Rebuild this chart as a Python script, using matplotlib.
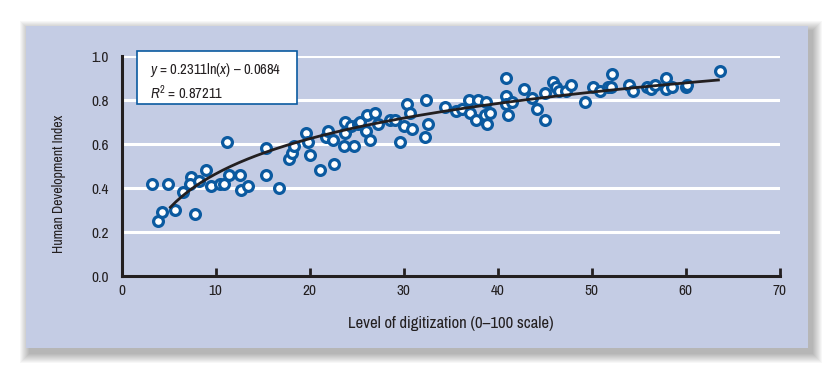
import numpy as np
import matplotlib.pyplot as plt
from matplotlib.patches import Rectangle
from matplotlib import font_manager

PANEL = "#c4cce4"
DOT_EDGE = "#0b5aa0"
INK = "#231f20"

digitization = [3.2, 4.9, 3.9, 4.3, 5.7, 6.5, 7.4, 7.3, 8.2, 7.8, 9.0, 9.5, 10.5, 10.9,
                11.2, 11.4, 12.6, 12.7, 13.5, 15.4, 15.4, 16.8, 17.8, 18.1, 18.4, 19.6,
                19.8, 20.0, 21.1, 21.8, 22.0, 22.6, 22.5, 23.8, 23.8, 23.7, 24.4, 24.7,
                25.2, 25.4, 26.0, 26.1, 26.4, 27.0, 27.3, 28.6, 29.1, 29.6, 30.1, 30.4,
                30.7, 30.9, 32.4, 32.3, 32.6, 34.4, 35.6, 36.2, 37.0, 37.1, 37.7, 37.9,
                38.7, 38.8, 38.9, 39.2, 40.9, 40.9, 40.9, 41.1, 41.5, 42.8, 43.7, 44.2,
                45.0, 45.1, 45.9, 46.2, 46.5, 47.3, 47.8, 49.3, 50.2, 50.9, 51.8, 52.2,
                52.1, 54.0, 54.4, 55.9, 56.3, 56.8, 57.9, 57.9, 58.6, 60.1, 60.2, 63.7]
hdi = [0.42, 0.42, 0.25, 0.29, 0.30, 0.38, 0.45, 0.42, 0.43, 0.28, 0.48, 0.41, 0.42, 0.42,
       0.61, 0.46, 0.46, 0.39, 0.41, 0.46, 0.58, 0.40, 0.53, 0.56, 0.59, 0.65,
       0.61, 0.55, 0.48, 0.63, 0.66, 0.51, 0.62, 0.70, 0.65, 0.59, 0.68, 0.59,
       0.69, 0.70, 0.66, 0.73, 0.62, 0.74, 0.69, 0.71, 0.71, 0.61, 0.68, 0.78,
       0.74, 0.67, 0.80, 0.63, 0.69, 0.77, 0.75, 0.76, 0.80, 0.74, 0.71, 0.80,
       0.73, 0.79, 0.69, 0.74, 0.90, 0.82, 0.78, 0.73, 0.79, 0.85, 0.81, 0.76,
       0.71, 0.83, 0.88, 0.86, 0.84, 0.84, 0.87, 0.79, 0.86, 0.84, 0.86, 0.92,
       0.86, 0.87, 0.84, 0.86, 0.85, 0.87, 0.90, 0.85, 0.86, 0.86, 0.87, 0.93]

fit_a, fit_b = 0.2311, -0.0684
fit_range = (5.2, 63.5)

# pick a narrow face if one is installed
narrow = [f.name for f in font_manager.fontManager.ttflist
          if ("Narrow" in f.name or "Condensed" in f.name)]
family = narrow[0] if narrow else "Liberation Sans"
plt.rcParams['font.family'] = [family, 'DejaVu Sans']
plt.rcParams['mathtext.fontset'] = 'custom'
plt.rcParams['mathtext.it'] = family + ':italic'
plt.rcParams['mathtext.rm'] = family

fig = plt.figure(figsize=(8.34, 3.74), dpi=100)
fig.patch.set_facecolor("white")

# soft drop shadow behind the panel
W, H = 834, 374
x0, y0, x1, y1 = 26, 26, 808, 348
for g in range(10, 0, -1):
    fig.patches.append(Rectangle(((x0 - g + 4) / W, (H - y1 - g - 5) / H),
                                 (x1 - x0 + 2 * g) / W, (y1 - y0 + 2 * g) / H,
                                 transform=fig.transFigure, facecolor="black",
                                 alpha=0.03, edgecolor="none", zorder=-3))
fig.patches.append(Rectangle((x0 / W, (H - y1) / H), (x1 - x0) / W, (y1 - y0) / H,
                             transform=fig.transFigure, facecolor=PANEL,
                             edgecolor="none", zorder=-2))

ax = fig.add_axes([121.5 / W, 98 / H, 658 / W, 220 / H])
ax.set_facecolor(PANEL)
ax.set_xlim(0, 70)
ax.set_ylim(0, 1.0)
ax.set_xticks(range(0, 71, 10))
ax.set_yticks([0.0, 0.2, 0.4, 0.6, 0.8, 1.0])
ax.set_yticklabels(["0.0", "0.2", "0.4", "0.6", "0.8", "1.0"])
ax.grid(axis="y", color="white", linewidth=2.2)
ax.set_axisbelow(True)
for s in ["top", "right"]:
    ax.spines[s].set_visible(False)
for s in ["left", "bottom"]:
    ax.spines[s].set_linewidth(2.2)
    ax.spines[s].set_color(INK)
ax.tick_params(axis="x", direction="in", length=6, width=2, color=INK,
               labelsize=11, labelcolor=INK, pad=6)
ax.tick_params(axis="y", length=0, labelsize=11, labelcolor=INK, pad=9)

ax.scatter(digitization, hdi, s=50, facecolor="white", edgecolor=DOT_EDGE,
           linewidth=2.3, zorder=3, clip_on=False)

xs = np.linspace(fit_range[0], fit_range[1], 200)
ax.plot(xs, fit_a * np.log(xs) + fit_b, color=INK, linewidth=2, zorder=4)

ax.add_patch(Rectangle((1.65, 0.78), 17.05, 0.245, facecolor="white",
                       edgecolor=DOT_EDGE, linewidth=1.2, zorder=5, clip_on=False))
ax.text(3.0, 0.935, r"$y$ = 0.2311ln($x$) – 0.0684", fontsize=10.5, color=INK,
        va="center", zorder=6)
ax.text(3.0, 0.835, r"$R^2$ = 0.87211", fontsize=10.5, color=INK,
        va="center", zorder=6)

ax.set_xlabel("Level of digitization (0–100 scale)", fontsize=12, color=INK,
              labelpad=13)
ax.set_ylabel("Human Development Index", fontsize=10, color=INK)
ax.yaxis.set_label_coords(-0.084, 0.418)

fig.savefig("out.png", dpi=100)
